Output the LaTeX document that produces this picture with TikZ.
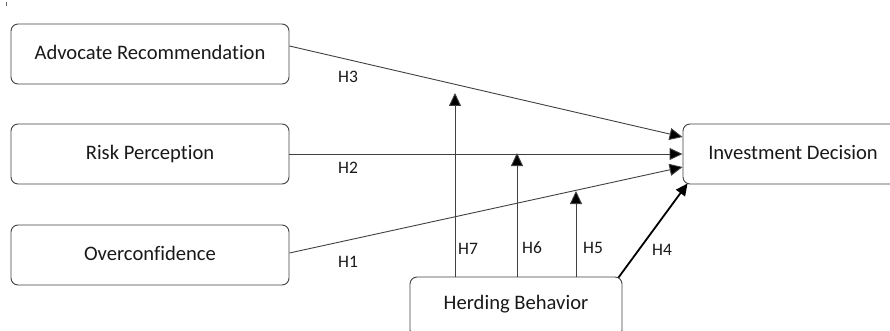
\documentclass[tikz,border=0pt]{standalone}
\usepackage{fontspec}
\setmainfont{Carlito}[Ligatures={NoCommon}]
\usetikzlibrary{arrows.meta,calc}
\begin{document}
\begin{tikzpicture}[x=1pt,y=-1pt,
  box/.style={draw=black!75,line width=0.9pt,rounded corners=7pt,minimum width=278pt,minimum height=60pt,inner sep=0pt,font=\fontsize{20.6}{24}\selectfont,text=black!90},
  lab/.style={font=\fontsize{17.5}{20}\selectfont,text=black!90,inner sep=0pt},
  conn/.style={draw=black!75,line width=0.9pt,-{Triangle[length=13pt,width=12pt,fill=black]}},
  thick conn/.style={draw=black,line width=1.8pt,-{Triangle[length=12pt,width=11pt]}}]
\useasboundingbox (0,0) rectangle (890,331);
\clip (0,0) rectangle (890,331);
\draw[black!60,line width=1pt] (6,2) -- (6,6);
\node[box] (adv) at (150,54) {\raisebox{3pt}{Advocate Recommendation}};
\node[box] (risk) at (150,154) {\raisebox{3pt}{Risk Perception}};
\node[box] (over) at (150,255) {\raisebox{3pt}{Overconfidence}};
\node[box,minimum width=220pt] (inv) at (793,154) {\raisebox{3pt}{Investment Decision}};
\node[box,minimum width=212pt] (herd) at (516,307) {\raisebox{10pt}{Herding Behavior}};
\coordinate (advs) at ($(adv.east)+(0,-8)$);
\coordinate (overs) at ($(over.east)+(0,-2)$);
\coordinate (t1) at ($(inv.west)+(0,-17)$);
\coordinate (t3) at ($(inv.west)+(0,13)$);
\coordinate (t4) at ($(inv.south west)+(5,-1)$);
\coordinate (h7s) at (herd.north -| 455,0);
\coordinate (h7e) at (455,93);
\coordinate (h6s) at (herd.north -| 517,0);
\coordinate (h6e) at (517,153);
\coordinate (h5s) at (herd.north -| 576,0);
\coordinate (h5e) at (576,191);
\coordinate (h4s) at ($(herd.north east)+(-4,1)$);
\draw[conn] (advs) -- (t1);
\draw[conn] (risk.east) -- (inv.west);
\draw[conn] (overs) -- (t3);
\draw[conn] (h7s) -- (h7e);
\draw[conn] (h6s) -- (h6e);
\draw[conn] (h5s) -- (h5e);
\draw[thick conn] (h4s) -- (t4);
\node[lab] (l3) at (348,77) {H3};
\node[lab] (l2) at (348,168) {H2};
\node[lab] (l1) at (348,262) {H1};
\node[lab] (l7) at (468,249) {H7};
\node[lab] (l6) at (532,248) {H6};
\node[lab] (l5) at (593,248) {H5};
\node[lab] (l4) at (662,250) {H4};
\end{tikzpicture}
\end{document}
